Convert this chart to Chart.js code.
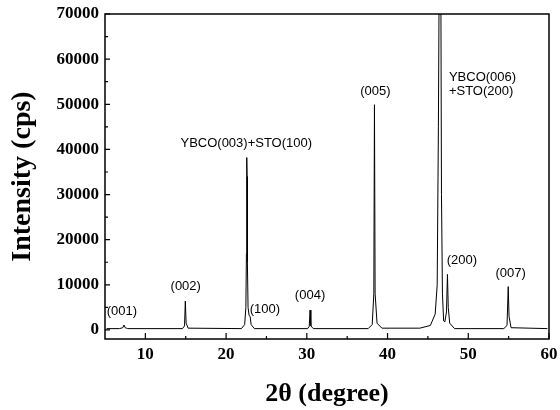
<!DOCTYPE html>
<html>
<head>
<meta charset="utf-8">
<script src="https://cdn.jsdelivr.net/npm/chart.js@4/dist/chart.umd.min.js"></script>
<style>
  html, body { margin: 0; padding: 0; background: #fff; }
  #wrap { width: 560px; height: 410px; }
</style>
</head>
<body>
<div id="wrap"><canvas id="xrdChart" width="560" height="410"></canvas></div>
<script>
// 2theta (degree) and intensity (cps)
var theta = [5.2, 6.8, 7.2, 7.35, 7.5, 7.8,
  14.6, 14.85, 14.95, 15.05, 15.3,
  21.9, 22.3, 22.45, 22.52, 22.56, 22.6, 22.64, 22.72, 22.85, 22.98, 23.1, 23.5,
  30.1, 30.3, 30.4, 30.5, 30.8,
  37.6, 38.1, 38.3, 38.38, 38.46, 38.7, 39.3,
  44.0, 45.3, 45.9, 46.15, 46.3, 46.4, 46.6, 46.68, 46.8, 46.95, 47.1, 47.3, 47.42, 47.52, 47.7, 48.3,
  54.4, 54.8, 54.95, 55.05, 55.3, 59.8];
var intensity = [300, 300, 500, 1100, 500, 300,
  300, 900, 6400, 1500, 400,
  300, 1200, 5000, 17000, 38200, 34000, 15000, 5000, 3200, 3000, 1200, 300,
  300, 800, 4400, 900, 300,
  300, 1200, 8000, 49900, 8000, 1500, 400,
  400, 1000, 3500, 10000, 45000, 80000, 80000, 30000, 8000, 2000, 1800, 4000, 12300, 5000, 1500, 300,
  300, 1000, 9600, 3000, 500, 300];

var xTicks = [10, 20, 30, 40, 50, 60];
var xMinor = [15, 25, 35, 45, 55];
var yTicks = [0, 10000, 20000, 30000, 40000, 50000, 60000, 70000];
var yMinor = [5000, 15000, 25000, 35000, 45000, 55000, 65000];

// peak labels (text, 2theta, intensity where the text sits)
var peakText = ['(001)', '(002)', 'YBCO(003)+STO(100)', '(100)', '(004)', '(005)',
  'YBCO(006)', '+STO(200)', '(200)', '(007)'];
var peakTheta = [7.1, 15.0, 22.5, 24.8, 30.4, 38.5, 47.6, 47.6, 49.2, 55.25];
var peakInt = [4000, 9600, 41400, 4650, 7600, 52800, 56000, 52800, 15300, 12600];
var peakAlign = ['center', 'center', 'center', 'center', 'center', 'center',
  'left', 'left', 'center', 'center'];

var points = [];
for (var i = 0; i < theta.length; i++) {
  points.push({x: theta[i], y: intensity[i]});
}

var serifBold = {family: 'Liberation Serif', weight: 'bold', size: 17};

var framePlugin = {          // box + inward ticks + peak labels
  id: 'frame',
  afterDatasetsDraw: function(chart) {
    var ctx = chart.ctx, a = chart.chartArea;
    var xs = chart.scales.x, ys = chart.scales.y;
    ctx.save();
    ctx.strokeStyle = '#000';
    ctx.lineWidth = 1.5;
    ctx.strokeRect(a.left, a.top, a.right - a.left, a.bottom - a.top);

    ctx.lineWidth = 1.2;
    ctx.beginPath();
    xTicks.forEach(function(v) {
      var px = xs.getPixelForValue(v);
      ctx.moveTo(px, a.bottom); ctx.lineTo(px, a.bottom - 6);
    });
    xMinor.forEach(function(v) {
      var px = xs.getPixelForValue(v);
      ctx.moveTo(px, a.bottom); ctx.lineTo(px, a.bottom - 3);
    });
    yTicks.forEach(function(v) {
      var py = ys.getPixelForValue(v);
      ctx.moveTo(a.left, py); ctx.lineTo(a.left + 5, py);
    });
    yMinor.forEach(function(v) {
      var py = ys.getPixelForValue(v);
      ctx.moveTo(a.left, py); ctx.lineTo(a.left + 3, py);
    });
    ctx.stroke();

    ctx.fillStyle = '#000';
    ctx.font = '13px "Liberation Sans", Arial, sans-serif';
    ctx.textBaseline = 'middle';
    for (var k = 0; k < peakText.length; k++) {
      ctx.textAlign = peakAlign[k];
      ctx.fillText(peakText[k], xs.getPixelForValue(peakTheta[k]), ys.getPixelForValue(peakInt[k]));
    }
    ctx.restore();
  }
};

function plain(v) { return String(v); }   // no thousands separator

var cfg = {
  type: 'line',
  data: {
    datasets: [{
      data: points,
      borderColor: '#000',
      borderWidth: 1,
      pointRadius: 0,
      tension: 0,
      fill: false
    }]
  },
  options: {
    responsive: false,
    animation: false,
    layout: {padding: {top: 14, right: 11, bottom: 0, left: 0}},
    plugins: {legend: {display: false}, tooltip: {enabled: false}},
    scales: {
      x: {
        type: 'linear',
        min: 5,
        max: 60,
        afterBuildTicks: function(s) { s.ticks = xTicks.map(function(v) { return {value: v}; }); },
        afterFit: function(s) { s.height = 71; s.paddingLeft = 0; s.paddingRight = 0; },
        grid: {display: false, drawTicks: false},
        border: {display: false},
        ticks: {color: '#000', font: serifBold, padding: 5, maxRotation: 0, callback: plain},
        title: {
          display: true,
          text: '2θ (degree)',
          color: '#000',
          font: {family: 'Liberation Serif', weight: 'bold', size: 26},
          padding: {top: 0, bottom: 0}
        }
      },
      y: {
        min: -2000,
        max: 70000,
        afterBuildTicks: function(s) { s.ticks = yTicks.map(function(v) { return {value: v}; }); },
        afterFit: function(s) { s.width = 105; s.paddingTop = 0; s.paddingBottom = 0; },
        grid: {display: false, drawTicks: false},
        border: {display: false},
        ticks: {color: '#000', font: serifBold, padding: 6, callback: plain},
        title: {
          display: true,
          text: 'Intensity (cps)',
          color: '#000',
          font: {family: 'Liberation Serif', weight: 'bold', size: 28},
          padding: {top: 6, bottom: 0}
        }
      }
    }
  },
  plugins: [framePlugin]
};

var xrd = new Chart(document.getElementById('xrdChart').getContext('2d'), cfg);
</script>
</body>
</html>
